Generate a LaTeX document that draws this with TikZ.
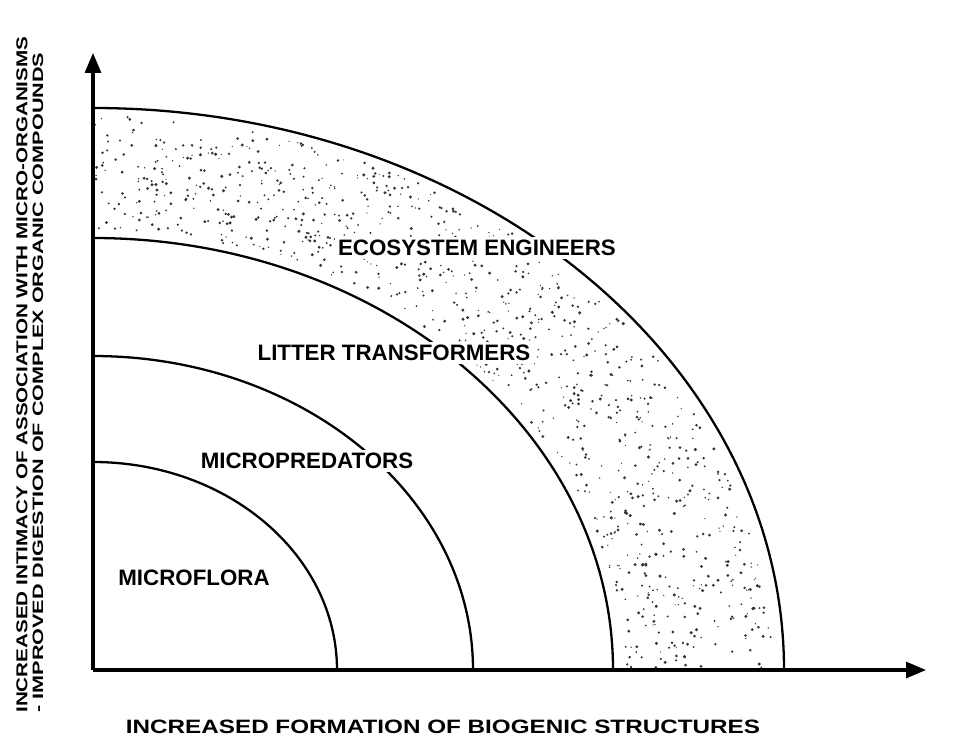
\documentclass[tikz,border=0pt]{standalone}
\usepackage{fontspec}
\setmainfont{Liberation Sans}
\usepackage{graphicx}
\usetikzlibrary{arrows.meta}
\tikzset{%
    ax/.style={line width=1.8pt, -{Triangle[length=0.4cm, width=0.32cm]}},
    zone/.style={line width=1.3pt},
    speck/.style={fill=black!80},
    lab/.style={fill=white, inner sep=1.5pt, font=\bfseries\fontsize{12.7}{15}\selectfont},
    axlab/.style={inner sep=0pt, font=\bfseries},
}

\begin{document}
\begin{tikzpicture}
    \useasboundingbox (-1.86,-1.34) rectangle (17.26,13.4);
    % stippled band of the ecosystem engineers
    \pgfmathsetseed{4711}
    \foreach \k in {1,...,1000}{
        \pgfmathsetmacro\ang{90*rnd}
        \pgfmathsetmacro\t{0.06+0.88*rnd}
        \fill[speck] ({(10.4+3.42*\t)*cos(\ang)},{(8.64+2.6*\t)*sin(\ang)}) circle[radius={0.012+0.022*rnd}];
    }
    % zones
    \foreach \rx/\ry in {4.88/4.16, 7.6/6.28, 10.4/8.64, 13.82/11.24}
        \draw [zone] (\rx,0) arc[start angle=0, end angle=90, x radius=\rx, y radius=\ry];
    % axes
    \coordinate (O) at (0,0);
    \coordinate (xtip) at (16.66,0);
    \coordinate (ytip) at (0,12.34);
    \draw [ax] (O) -- (xtip);
    \draw [ax] (O) -- (ytip);
    \node [lab] (flora) at (2.02,1.84) {MICROFLORA};
    \node [lab] (pred) at (4.28,4.18) {MICROPREDATORS};
    \node [lab] (litter) at (6.02,6.34) {LITTER TRANSFORMERS};
    \node [lab] (eco) at (7.68,8.44) {ECOSYSTEM ENGINEERS};
    \node [axlab] (xlab) at (7.0,-1.13) {\resizebox{12.68cm}{0.27cm}{INCREASED FORMATION OF BIOGENIC STRUCTURES}};
    \node [axlab, rotate=90, anchor=west] (ylaba) at (-1.42,-0.86) {\resizebox{13.52cm}{0.22cm}{INCREASED INTIMACY OF ASSOCIATION WITH MICRO-ORGANISMS}};
    \node [axlab, rotate=90, anchor=west] (ylabb) at (-1.1,-0.86) {\resizebox{13.2cm}{0.21cm}{- IMPROVED DIGESTION OF COMPLEX ORGANIC COMPOUNDS}};
\end{tikzpicture}
\end{document}
